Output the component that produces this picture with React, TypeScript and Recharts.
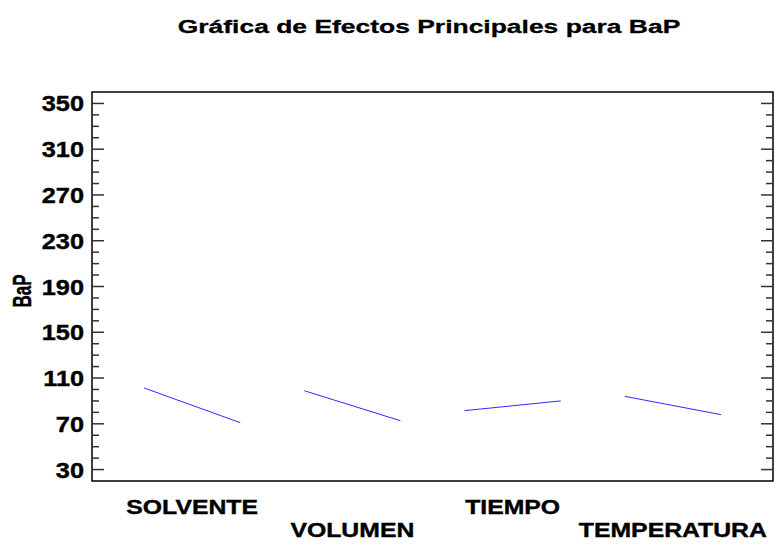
import { LineChart, Line, XAxis, YAxis, ReferenceArea } from 'recharts'

const FACTORS = ['SOLVENTE', 'VOLUMEN', 'TIEMPO', 'TEMPERATURA']
const LOW_LEVEL = [101.3, 98.9, 81.5, 94.0]
const HIGH_LEVEL = [71.0, 72.7, 90.0, 78.0]
const FACTOR_POS = [0, 1, 2, 3]
const LEVEL_OFFSET = [-0.3, 0.3]
const MAJOR_TICKS = [30, 70, 110, 150, 190, 230, 270, 310, 350]
const ALL_TICKS = [
  30, 40, 50, 60, 70, 80, 90, 100, 110, 120, 130, 140, 150, 160, 170, 180, 190,
  200, 210, 220, 230, 240, 250, 260, 270, 280, 290, 300, 310, 320, 330, 340, 350,
]
const Y_DOMAIN: [number, number] = [20, 360]
const X_DOMAIN: [number, number] = [-0.625, 3.625]

const FONT = '"Liberation Sans", Arial, sans-serif'
const TICK_COLOR = '#333'

function LeftTick(props: any) {
  const { x, y, payload } = props
  const major = MAJOR_TICKS.includes(payload.value)
  return (
    <g>
      <line x1={x} x2={x + (major ? 12 : 7)} y1={y} y2={y} stroke={TICK_COLOR} strokeWidth={1.5} />
      {major && (
        <text transform={`translate(${x - 8},${y + 8}) scale(1.15,1)`} textAnchor="end"
              fontFamily={FONT} fontWeight="bold" fontSize={22} fill="#000" stroke="#000" strokeWidth={0.4}>
          {payload.value}
        </text>
      )}
    </g>
  )
}

function RightTick(props: any) {
  const { x, y, payload } = props
  const major = MAJOR_TICKS.includes(payload.value)
  return <line x1={x} x2={x - (major ? 12 : 7)} y1={y} y2={y} stroke={TICK_COLOR} strokeWidth={1.5} />
}

function FactorTick(props: any) {
  const { x, y, index } = props
  const label = FACTORS[index]
  return (
    <text transform={`translate(${x},${y + (index % 2 === 0 ? 33 : 56)}) scale(1.18,1)`} textAnchor="middle"
          fontFamily={FONT} fontWeight="bold" fontSize={21} fill="#000" stroke="#000" strokeWidth={0.4}>
      {label}
    </text>
  )
}

export default function App() {
  return (
    <div style={{ position: 'absolute', left: 0, top: 0, background: '#fff' }}>
      <LineChart width={778} height={544} margin={{ top: 92, left: 91, right: 4, bottom: 62 }}>
        <text transform="translate(429,32.5) scale(1.43,1)" textAnchor="middle"
              fontFamily={FONT} fontWeight="bold" fontSize={18.5} fill="#000" stroke="#000" strokeWidth={0.3}>
          Gráfica de Efectos Principales para BaP
        </text>
        <text transform="translate(31,291) rotate(-90) scale(1,1.55)" textAnchor="middle"
              fontFamily={FONT} fontWeight="bold" fontSize={17} fill="#000" stroke="#000" strokeWidth={0.3}>
          BaP
        </text>
        <XAxis type="number" dataKey="x" domain={X_DOMAIN} ticks={FACTOR_POS} allowDataOverflow
               height={1} tickSize={0} tickMargin={0} axisLine={false} tickLine={false}
               tick={<FactorTick />} interval={0} />
        <YAxis type="number" domain={Y_DOMAIN} ticks={ALL_TICKS} allowDataOverflow width={1}
               tickSize={0} tickMargin={0} axisLine={false} tickLine={false} tick={<LeftTick />} interval={0} />
        <YAxis yAxisId="r" orientation="right" type="number" domain={Y_DOMAIN} ticks={ALL_TICKS}
               allowDataOverflow width={1} tickSize={0} tickMargin={0} axisLine={false} tickLine={false}
               tick={<RightTick />} interval={0} />
        <ReferenceArea x1={X_DOMAIN[0]} x2={X_DOMAIN[1]} y1={Y_DOMAIN[0]} y2={Y_DOMAIN[1]}
                       fill="none" fillOpacity={0} stroke="#000" strokeWidth={1.5} ifOverflow="visible" />
        {FACTORS.map((name, i) => (
          <Line key={name} type="linear" name={name}
                data={[
                  { x: FACTOR_POS[i] + LEVEL_OFFSET[0], y: LOW_LEVEL[i] },
                  { x: FACTOR_POS[i] + LEVEL_OFFSET[1], y: HIGH_LEVEL[i] },
                ]}
                dataKey="y" stroke="#2a2aff" strokeWidth={1} dot={false} isAnimationActive={false} />
        ))}
      </LineChart>
    </div>
  )
}
